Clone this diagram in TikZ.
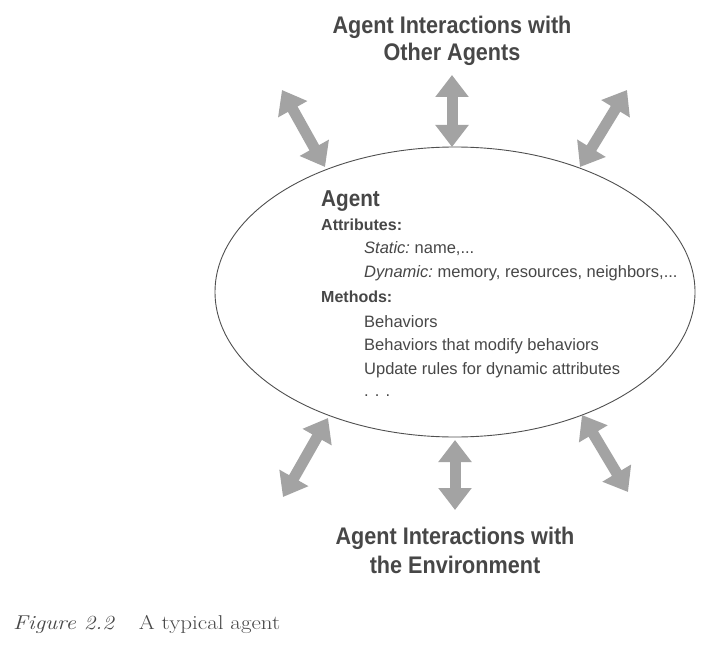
\documentclass[tikz,border=0pt]{standalone}
\usepackage{fontspec}
\setmainfont{Liberation Sans}
\newfontfamily\headfont[FakeStretch=0.9]{Liberation Sans Bold}
\newfontfamily\capfont[FakeStretch=1.15]{Latin Modern Roman}
\usetikzlibrary{arrows.meta,shapes.geometric}
\definecolor{txtgray}{HTML}{474747}
\definecolor{arrgray}{HTML}{A3A3A3}
\definecolor{linegray}{HTML}{505050}
\tikzset{
  fatarrow/.style={draw=arrgray, line width=11pt,
    {Triangle[width=32pt,length=22pt]}-{Triangle[width=32pt,length=22pt]}},
  headtxt/.style={text=txtgray, font=\headfont\fontsize{24}{28}\selectfont, align=center, inner sep=0pt},
  bodytxt/.style={text=txtgray, font=\fontsize{16.5}{20}\selectfont, inner sep=0pt, anchor=base west},
  subtxt/.style={text=txtgray, font=\bfseries\fontsize{16}{20}\selectfont, inner sep=0pt, anchor=base west},
}
\begin{document}
\begin{tikzpicture}[x=1pt,y=-1pt]
\useasboundingbox[fill=white] (0,0) rectangle (708,644);
% ellipse
\node[ellipse, draw=linegray, line width=0.9pt, minimum width=480pt, minimum height=290pt, inner sep=0pt] (agent) at (455,292) {};
% headings
\node[headtxt, anchor=base] (top1) at (452,34) {Agent Interactions with};
\node[headtxt, anchor=base] (top2) at (452,61) {Other Agents};
\node[headtxt, anchor=base] (bot1) at (455,544) {Agent Interactions with};
\node[headtxt, anchor=base] (bot2) at (455,573) {the Environment};
% inner text
\node[text=txtgray, font=\headfont\fontsize{23}{26}\selectfont, inner sep=0pt, anchor=base west] (title) at (321,207) {Agent};
\node[subtxt] (attr) at (321,230) {Attributes:};
\node[bodytxt] (stat) at (364,253) {{\itshape Static:}\hspace{-1.5pt} name,...};
\node[bodytxt] (dyn) at (364,277) {{\itshape Dynamic:}\hspace{-1.5pt} memory, resources, neighbors,...};
\node[subtxt] (meth) at (321,302) {Methods:};
\node[bodytxt] (beh) at (364,327) {Behaviors};
\node[bodytxt] (beh2) at (364,350) {Behaviors that modify behaviors};
\node[bodytxt] (upd) at (364,374) {Update rules for dynamic attributes};
\node[bodytxt] (dots) at (364,396) {. . .};
% arrow endpoints
\coordinate (tl1) at (282,90);  \coordinate (tl2) at (325,167);
\coordinate (tc1) at (452,75);  \coordinate (tc2) at (452,147);
\coordinate (tr1) at (627,90);  \coordinate (tr2) at (580,167);
\coordinate (bl1) at (328,418); \coordinate (bl2) at (283,497);
\coordinate (bc1) at (455,440); \coordinate (bc2) at (455,510);
\coordinate (br1) at (582,415); \coordinate (br2) at (628,492);
\draw[fatarrow] (tl1) -- (tl2);
\draw[fatarrow] (tc1) -- (tc2);
\draw[fatarrow] (tr1) -- (tr2);
\draw[fatarrow] (bl1) -- (bl2);
\draw[fatarrow] (bc1) -- (bc2);
\draw[fatarrow] (br1) -- (br2);
% caption
\node[text=txtgray, font=\capfont\fontsize{20}{24}\selectfont, inner sep=0pt, anchor=base west] (cap) at (13,629) {\textit{Figure 2.2}\hspace{1.2em}A typical agent};
\end{tikzpicture}
\end{document}
